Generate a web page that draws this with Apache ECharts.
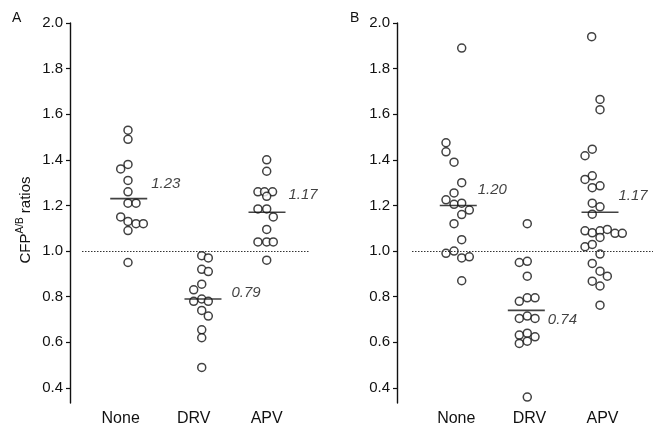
<!DOCTYPE html>
<html>
<head>
<meta charset="utf-8">
<script src="https://cdn.jsdelivr.net/npm/echarts@6/dist/echarts.min.js"></script>
<style>
html,body{margin:0;padding:0;background:#fff;}
#chart{width:661px;height:427px;}
</style>
</head>
<body>
<div id="chart"></div>
<script>
// ---------- data ----------
const categories = ['None', 'DRV', 'APV'];
const yTicks = [0.4, 0.6, 0.8, 1.0, 1.2, 1.4, 1.6, 1.8, 2.0];
const refValue = 1.0;

// Panel A values and horizontal jitter (category units)
const aNoneVals = [1.53, 1.49, 1.38, 1.36, 1.31, 1.26, 1.21, 1.21, 1.15, 1.13, 1.12, 1.12, 1.09, 0.95];
const aNoneJit  = [0.10, 0.10, 0.10, 0.00, 0.10, 0.10, 0.10, 0.21, 0.00, 0.10, 0.21, 0.31, 0.10, 0.10];
const aDrvVals  = [0.98, 0.97, 0.92, 0.91, 0.855, 0.83, 0.79, 0.78, 0.78, 0.74, 0.715, 0.655, 0.62, 0.49];
const aDrvJit   = [0.11, 0.20, 0.11, 0.20, 0.11, 0.00, 0.11, 0.00, 0.20, 0.11, 0.20, 0.11, 0.11, 0.11];
const aApvVals  = [1.40, 1.35, 1.26, 1.26, 1.26, 1.24, 1.185, 1.185, 1.15, 1.095, 1.04, 1.04, 1.04, 0.96];
const aApvJit   = [0.00, 0.00, -0.12, -0.03, 0.08, 0.00, -0.12, 0.00, 0.09, 0.00, -0.12, 0.00, 0.09, 0.00];
const mediansA  = [1.23, 0.79, 1.17];

// Panel B values and jitter
const bNoneVals = [1.89, 1.475, 1.435, 1.39, 1.30, 1.255, 1.225, 1.205, 1.21, 1.18, 1.16, 1.12, 1.05, 0.99, 1.00, 0.97, 0.975, 0.87];
const bNoneJit  = [0.074, -0.141, -0.141, -0.031, 0.074, -0.031, -0.141, -0.031, 0.074, 0.178, 0.074, -0.031, 0.074, -0.141, -0.031, 0.074, 0.178, 0.074];
const bDrvVals  = [1.12, 0.95, 0.955, 0.89, 0.78, 0.795, 0.795, 0.705, 0.715, 0.705, 0.632, 0.64, 0.624, 0.595, 0.605, 0.36];
const bDrvJit   = [-0.029, -0.138, -0.029, -0.029, -0.138, -0.029, 0.077, -0.138, -0.029, 0.077, -0.138, -0.029, 0.077, -0.138, -0.029, -0.029];
const bApvVals  = [1.94, 1.665, 1.62, 1.447, 1.418, 1.33, 1.314, 1.286, 1.278, 1.21, 1.194, 1.162, 1.089, 1.080, 1.089, 1.095, 1.078, 1.078, 1.060, 1.019, 1.029, 0.987, 0.946, 0.912, 0.890, 0.868, 0.847, 0.763];
const bApvJit   = [-0.148, -0.034, -0.034, -0.14, -0.239, -0.14, -0.239, -0.034, -0.14, -0.14, -0.034, -0.14, -0.239, -0.14, -0.034, 0.066, 0.171, 0.271, -0.034, -0.239, -0.14, -0.034, -0.14, -0.034, 0.066, -0.14, -0.034, -0.034];
const mediansB  = [1.20, 0.74, 1.17];

// ---------- layout / style ----------
const FONT = '"Liberation Sans", Arial, Helvetica, sans-serif';
const INK = '#111';
const medianCenterA = [0.11, 0.127, 0.004];
const medianCenterB = [0.027, -0.042, -0.034];
const medianLabelOffA = [[4, -15], [10, -6], [3, -17]];
const medianLabelOffB = [[1, -16], [3, 9], [0, -16]];

function pts(cat, vals, jit) { return vals.map((v, i) => [cat + jit[i], v]); }

function yAxisCfg(gi, off) {
  return {
    gridIndex: gi, type: 'value', min: 0.334, max: 2.0, offset: off,
    axisLine: { show: true, onZero: false, lineStyle: { color: INK, width: 1.4 } },
    axisTick: { show: true, length: 4, customValues: yTicks, lineStyle: { color: INK, width: 1.2 } },
    axisLabel: { customValues: yTicks, formatter: v => v.toFixed(1), fontSize: 15, color: INK, fontFamily: FONT, margin: 7 },
    splitLine: { show: false }
  };
}
function xAxisCfg(gi, mn, mx) {
  return {
    gridIndex: gi, type: 'value', min: mn, max: mx, position: 'bottom',
    axisLine: { show: false, onZero: false }, axisTick: { show: false }, splitLine: { show: false },
    axisLabel: { customValues: [0, 1, 2], formatter: v => categories[Math.round(v)], fontSize: 16, color: INK, fontFamily: FONT, margin: 8 }
  };
}
function dots(gi, data) {
  return {
    type: 'scatter', xAxisIndex: gi, yAxisIndex: gi, data: data,
    symbol: 'circle', symbolSize: 8, silent: true,
    itemStyle: { color: '#fff', borderColor: INK, borderWidth: 1.5 }, z: 3
  };
}
function medians(gi, meds, centers, offs) {
  return {
    type: 'scatter', xAxisIndex: gi, yAxisIndex: gi, silent: true, z: 4,
    symbol: 'rect', symbolSize: [37, 1.6],
    itemStyle: { color: INK },
    data: meds.map((m, i) => ({
      value: [i + centers[i], m],
      label: { show: true, position: 'right', distance: 0, offset: offs[i],
        formatter: m.toFixed(2), fontStyle: 'italic', fontSize: 15, color: INK, fontFamily: FONT }
    }))
  };
}
function refLine(gi) {
  return {
    type: 'line', xAxisIndex: gi, yAxisIndex: gi, data: [], silent: true,
    markLine: { silent: true, symbol: 'none', label: { show: false },
      lineStyle: { type: [1.5, 1.5], color: '#333', width: 1 },
      data: [{ yAxis: refValue }] }
  };
}

const option = {
  backgroundColor: '#fff',
  animation: false,
  grid: [
    { left: 82, top: 23, width: 228, height: 380 },
    { left: 412, top: 23, width: 241, height: 380 }
  ],
  xAxis: [xAxisCfg(0, -0.530, 2.593), xAxisCfg(1, -0.606, 2.691)],
  yAxis: [yAxisCfg(0, 12), yAxisCfg(1, 15)],
  series: [
    refLine(0),
    dots(0, pts(0, aNoneVals, aNoneJit)),
    dots(0, pts(1, aDrvVals, aDrvJit)),
    dots(0, pts(2, aApvVals, aApvJit)),
    medians(0, mediansA, medianCenterA, medianLabelOffA),
    refLine(1),
    dots(1, pts(0, bNoneVals, bNoneJit)),
    dots(1, pts(1, bDrvVals, bDrvJit)),
    dots(1, pts(2, bApvVals, bApvJit)),
    medians(1, mediansB, medianCenterB, medianLabelOffB)
  ],
  graphic: [
    { type: 'text', left: 12, top: 11, style: { text: 'A', fontSize: 14, fill: INK, fontFamily: FONT } },
    { type: 'text', left: 350, top: 11, style: { text: 'B', fontSize: 14, fill: INK, fontFamily: FONT } },
    { type: 'text', x: 24, y: 220, rotation: Math.PI / 2,
      style: {
        text: '{a|CFP}{s|A/B}{a| ratios}', align: 'center', verticalAlign: 'middle', fill: INK,
        rich: {
          a: { fontSize: 15, fontFamily: FONT, fill: INK, lineHeight: 18, verticalAlign: 'bottom' },
          s: { fontSize: 10, fontFamily: FONT, fill: INK, lineHeight: 18, verticalAlign: 'top' }
        }
      } }
  ]
};

const chart = echarts.init(document.getElementById('chart'), null, { renderer: 'canvas' });
chart.setOption(option);
</script>
</body>
</html>
